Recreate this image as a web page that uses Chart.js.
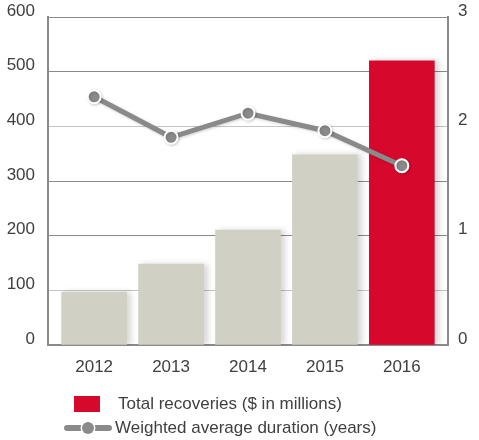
<!DOCTYPE html>
<html>
<head>
<meta charset="utf-8">
<script src="https://cdn.jsdelivr.net/npm/chart.js@4"></script>
<style>
  body { margin: 0; background: #fff; font-family: "Liberation Sans", Arial, sans-serif; }
  #wrap { position: relative; width: 479px; height: 440px; }
  .legend-item { position: absolute; font-size: 17px; color: #404040; white-space: nowrap; line-height: 20px; }
  .swatch { position: absolute; left: 74px; top: 396px; width: 26px; height: 16px; background: #d6092c; }
  .line-key { position: absolute; left: 64px; top: 425px; width: 48px; height: 6px; background: #8a8a8a; border-radius: 3px; }
  .line-dot { position: absolute; left: 82px; top: 422px; width: 12px; height: 12px; border-radius: 50%; background: #8a8a8a; box-shadow: 0 0 0 1.5px #fff; }
</style>
</head>
<body>
<div id="wrap">
  <canvas id="chart"></canvas>
  <div class="swatch"></div>
  <div class="legend-item" style="left:118px; top:394px;">Total recoveries ($ in millions)</div>
  <div class="line-key"></div>
  <div class="line-dot"></div>
  <div class="legend-item" style="left:115px; top:418px;">Weighted average duration (years)</div>
</div>
<script>
const years = ['2012', '2013', '2014', '2015', '2016'];
const recoveries = [97, 148, 210, 348, 520];
const duration = [2.27, 1.90, 2.12, 1.96, 1.64];

const GRAY = '#8a8a8a';
const BAR_GRAY = '#d0d0c5';
const RED = '#d6092c';
const TEXT = '#404040';

// soft drop shadow under bars and line markers
const shadowPlugin = {
  id: 'shadow',
  beforeDatasetDraw(chart, args) {
    const ctx = chart.ctx;
    ctx.save();
    if (args.meta.type === 'bar') {
      ctx.shadowColor = 'rgba(0,0,0,0.16)';
      ctx.shadowBlur = 6;
      ctx.shadowOffsetX = 4;
      ctx.shadowOffsetY = 0;
    } else {
      ctx.shadowColor = 'rgba(0,0,0,0.18)';
      ctx.shadowBlur = 3;
      ctx.shadowOffsetX = 1;
      ctx.shadowOffsetY = 1;
    }
  },
  afterDatasetDraw(chart) {
    chart.ctx.restore();
  }
};

// fixed axis widths, no extra room for the top tick label
function fitY(width) {
  return (scale) => {
    scale.width = width;
    scale.paddingTop = 0;
    scale.paddingBottom = 0;
  };
}

new Chart(document.getElementById('chart'), {
  data: {
    datasets: [
      {
        type: 'line',
        label: 'Weighted average duration (years)',
        data: duration.map((v, i) => ({ x: i, y: v })),
        yAxisID: 'y2',
        borderColor: GRAY,
        borderWidth: 5,
        pointRadius: 6.5,
        pointBorderWidth: 2,
        pointBackgroundColor: GRAY,
        pointBorderColor: '#fff',
        order: 0
      },
      {
        type: 'bar',
        label: 'Total recoveries ($ in millions)',
        data: recoveries.map((v, i) => ({ x: i, y: v })),
        yAxisID: 'y',
        backgroundColor: recoveries.map((_, i) => i === recoveries.length - 1 ? RED : BAR_GRAY),
        barThickness: 65,
        order: 1
      }
    ]
  },
  options: {
    responsive: true,
    maintainAspectRatio: false,
    animation: false,
    layout: { padding: { top: 17, bottom: 60, left: 0, right: 0 } },
    plugins: { legend: { display: false }, tooltip: { enabled: false } },
    scales: {
      x: {
        type: 'linear',
        offset: false,
        min: -0.6,
        max: 4.6,
        afterBuildTicks: (scale) => { scale.ticks = years.map((_, i) => ({ value: i })); },
        afterFit: (scale) => { scale.height = 35; },
        grid: { display: false, drawTicks: false, offset: false },
        border: { color: GRAY, width: 2 },
        ticks: {
          padding: 12,
          color: TEXT,
          font: { family: 'Liberation Sans', size: 17 },
          callback: (v) => years[v]
        }
      },
      y: {
        position: 'left',
        min: 0,
        max: 600,
        afterFit: fitY(48),
        border: { color: GRAY, width: 2 },
        grid: {
          drawTicks: false,
          lineWidth: 1,
          color: (c) => (c.tick && (c.tick.value === 100 || c.tick.value === 400)) ? '#c4c4c4' : GRAY
        },
        ticks: {
          stepSize: 100,
          padding: 13,
          labelOffset: -6,
          color: TEXT,
          font: { family: 'Liberation Sans', size: 17 }
        }
      },
      y2: {
        position: 'right',
        min: 0,
        max: 3,
        afterFit: fitY(31),
        border: { color: GRAY, width: 2 },
        grid: { display: false, drawTicks: false },
        ticks: {
          stepSize: 1,
          padding: 10,
          labelOffset: -6,
          color: TEXT,
          font: { family: 'Liberation Sans', size: 17 }
        }
      }
    }
  },
  plugins: [shadowPlugin]
});
</script>
</body>
</html>
